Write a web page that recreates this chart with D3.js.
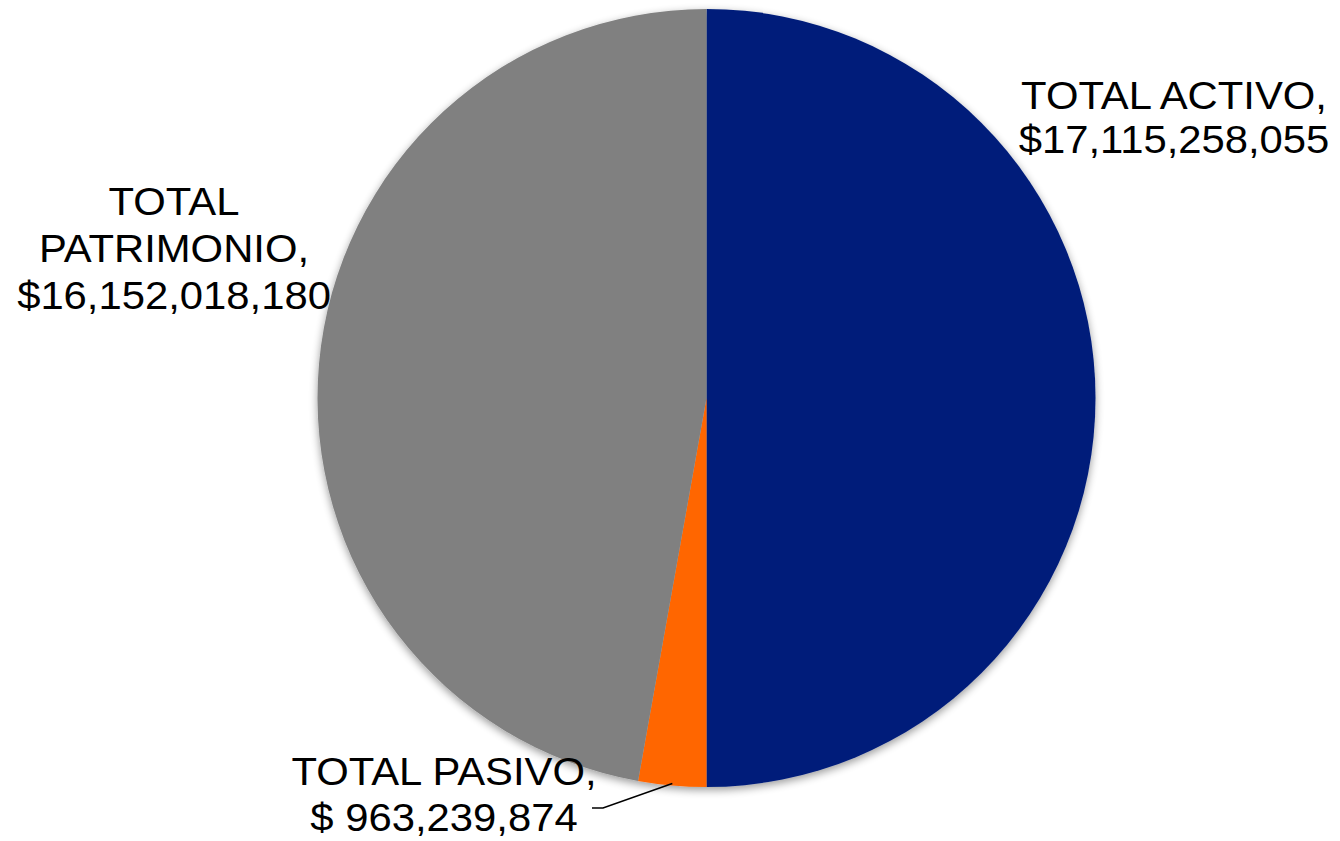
<!DOCTYPE html>
<html><head><meta charset="utf-8">
<script src="https://cdn.jsdelivr.net/npm/d3@7"></script>
<style>html,body{margin:0;padding:0;background:#fff;}svg{display:block;}</style>
</head><body>
<svg id="chart" width="1340" height="841"></svg>
<script>
const categories = ["TOTAL ACTIVO", "TOTAL PASIVO", "TOTAL PATRIMONIO"];
const values = [17115258055, 963239874, 16152018180];
const colors = ["#001F7A", "#FF6600", "#808080"];
const labelLines = [
  ["TOTAL ACTIVO,", "$17,115,258,055"],
  ["TOTAL PASIVO,", "$ 963,239,874"],
  ["TOTAL", "PATRIMONIO,", "$16,152,018,180"]
];

const svg = d3.select("#chart");
const cx = 706.5, cy = 398, r = 389;
const defs = svg.append("defs");
const f = defs.append("filter").attr("id","shadow").attr("x","-10%").attr("y","-10%").attr("width","120%").attr("height","120%");
f.append("feGaussianBlur").attr("in","SourceAlpha").attr("stdDeviation",4);
f.append("feOffset").attr("dx",0).attr("dy",3).attr("result","b");
f.append("feComponentTransfer").append("feFuncA").attr("type","linear").attr("slope",0.4);
const m = f.append("feMerge"); m.append("feMergeNode"); m.append("feMergeNode").attr("in","SourceGraphic");

const data = categories.map((c,i)=>({name:c, value:values[i], color:colors[i], lines:labelLines[i]}));
const pie = d3.pie().value(d=>d.value).sort(null);
const arc = d3.arc().innerRadius(0).outerRadius(r);
const arcs = pie(data);

const g = svg.append("g").attr("transform",`translate(${cx},${cy})`);
g.append("g").attr("filter","url(#shadow)").selectAll("path").data(arcs).join("path")
  .attr("d",arc).attr("fill",d=>d.data.color);

const labelPos = [
  {x:1174, y:109, lh:44},
  {x:444, y:785, lh:46},
  {x:174, y:215, lh:47}
];
const fs = 38, sx = 1.1;
arcs.forEach((a,i)=>{
  const p = labelPos[i];
  const t = svg.append("text").attr("text-anchor","middle")
    .attr("transform",`translate(${p.x},0) scale(${sx},1)`)
    .attr("font-family","Liberation Sans, Arial, sans-serif").attr("font-size",fs).attr("fill","#000");
  a.data.lines.forEach((ln,j)=>{
    t.append("tspan").attr("x",0).attr("y",p.y + j*p.lh).text(ln);
  });
});

// leader line for PASIVO
const pas = arcs[1];
const mid = (pas.startAngle + pas.endAngle)/2;
const end = d3.arc().innerRadius(r-2).outerRadius(r-2).centroid({startAngle:mid,endAngle:mid});
svg.append("polyline")
  .attr("points", [[592,808],[603,808],[cx+end[0], cy+end[1]]].map(p=>p.join(",")).join(" "))
  .attr("fill","none").attr("stroke","#000").attr("stroke-width",1.5);
</script>
</body></html>
